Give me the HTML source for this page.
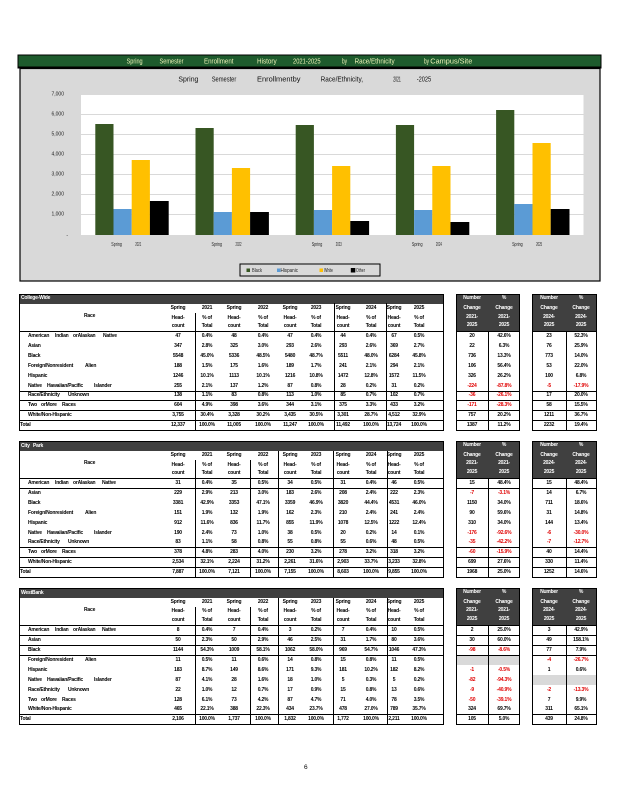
<!DOCTYPE html>
<html><head><meta charset="utf-8"><style>
*{margin:0;padding:0}
body{width:618px;height:800px;position:relative;background:#fff;overflow:hidden;font-family:"Liberation Sans Narrow","Liberation Sans",Arial,sans-serif;color:#000}
.a{position:absolute}
.box{position:absolute;box-sizing:border-box;border:1.5px solid #000}
.band{position:absolute;background:#404040}
.gr{position:absolute;background:#d9d9d9}
.h{position:absolute;height:1px;background:#000}
.v{position:absolute;width:1px;background:#000}
.r{position:absolute;left:0;width:618px;height:7px;font-size:5px;font-weight:bold;line-height:7px;letter-spacing:-0.2px;white-space:nowrap}
.r span{position:absolute;top:0;width:26px;text-align:center}
.r span.l{width:auto;text-align:left}
.w span{color:#fff}
.r .n{color:#e00000}
.c1{left:165px}.c2{left:194px}.c3{left:221px}.c4{left:250px}.c5{left:277px}.c6{left:303px}.c7{left:330px}.c8{left:358px}.c9{left:381px}.c10{left:406px}
.b1{left:459px}.b2{left:491px}.b3{left:536px}.b4{left:568px}
.k1{left:28px}
</style></head><body>

<svg class="a" style="left:0;top:0" width="618" height="290" font-family="Liberation Sans Narrow, Liberation Sans, sans-serif">
<rect x="18" y="55" width="583" height="13" fill="#1e5b2d" stroke="#000" stroke-width="1"/>
<line x1="18" y1="67.5" x2="601" y2="67.5" stroke="#000" stroke-width="2"/>
<rect x="20" y="68.5" width="580" height="212.5" fill="#d9d9d9" stroke="#000" stroke-width="1.2"/>
<g fill="#eef3b8" font-size="7">
<text x="126.6" y="63.5" textLength="16" lengthAdjust="spacingAndGlyphs">Spring</text>
<text x="159.5" y="63.5" textLength="24" lengthAdjust="spacingAndGlyphs">Semester</text>
<text x="204" y="63.5" textLength="29.5" lengthAdjust="spacingAndGlyphs">Enrollment</text>
<text x="257" y="63.5" textLength="19.7" lengthAdjust="spacingAndGlyphs">History</text>
<text x="293" y="63.5" textLength="27.6" lengthAdjust="spacingAndGlyphs">2021-2025</text>
<text x="342" y="63.5" textLength="5" lengthAdjust="spacingAndGlyphs">by</text>
<text x="354.6" y="63.5" textLength="40" lengthAdjust="spacingAndGlyphs">Race/Ethnicity</text>
<text x="424" y="63.5" textLength="5" lengthAdjust="spacingAndGlyphs">by</text>
<text x="430.3" y="63.5" textLength="42" lengthAdjust="spacingAndGlyphs">Campus/Site</text>
</g>
<g fill="#111" font-size="7">
<text x="178.4" y="81.5" textLength="20" lengthAdjust="spacingAndGlyphs">Spring</text>
<text x="211.7" y="81.5" textLength="24.6" lengthAdjust="spacingAndGlyphs">Semester</text>
<text x="257" y="81.5" textLength="43.5" lengthAdjust="spacingAndGlyphs">Enrollmentby</text>
<text x="320.6" y="81.5" textLength="42.4" lengthAdjust="spacingAndGlyphs">Race/Ethnicity,</text>
<text x="393.2" y="81.5" textLength="7.6" lengthAdjust="spacingAndGlyphs">2021</text>
<text x="416.7" y="81.5" textLength="14.4" lengthAdjust="spacingAndGlyphs">-2025</text>
</g>
<rect x="81" y="94" width="502.5" height="141" fill="#fff"/>
<g stroke="#d9d9d9" stroke-width="1">
<line x1="81" y1="94.5" x2="583.5" y2="94.5"/>
<line x1="81" y1="114.5" x2="583.5" y2="114.5"/>
<line x1="81" y1="134.5" x2="583.5" y2="134.5"/>
<line x1="81" y1="154.5" x2="583.5" y2="154.5"/>
<line x1="81" y1="174.5" x2="583.5" y2="174.5"/>
<line x1="81" y1="194.5" x2="583.5" y2="194.5"/>
<line x1="81" y1="214.5" x2="583.5" y2="214.5"/>
</g>
<g fill="#375623">
<rect x="95.3" y="124" width="18.2" height="111"/>
<rect x="195.5" y="128" width="18.2" height="107"/>
<rect x="295.7" y="125" width="18.2" height="110"/>
<rect x="395.9" y="125" width="18.2" height="110"/>
<rect x="496.1" y="110" width="18.2" height="125"/>
</g>
<g fill="#5b9bd5">
<rect x="113.5" y="209" width="18.2" height="26"/>
<rect x="213.7" y="212" width="18.2" height="23"/>
<rect x="313.9" y="210" width="18.2" height="25"/>
<rect x="414.1" y="210" width="18.2" height="25"/>
<rect x="514.3" y="204" width="18.2" height="31"/>
</g>
<g fill="#ffc000">
<rect x="131.7" y="160" width="18.2" height="75"/>
<rect x="231.9" y="168" width="18.2" height="67"/>
<rect x="332.1" y="166" width="18.2" height="69"/>
<rect x="432.3" y="166" width="18.2" height="69"/>
<rect x="532.5" y="143" width="18.2" height="92"/>
</g>
<g fill="#000">
<rect x="149.9" y="201" width="18.8" height="34"/>
<rect x="250.1" y="212" width="18.8" height="23"/>
<rect x="350.3" y="221" width="18.8" height="14"/>
<rect x="450.5" y="222" width="18.8" height="13"/>
<rect x="550.7" y="209" width="18.8" height="26"/>
</g>
<g fill="#222" font-size="5" text-anchor="end">
<text x="64" y="95.5">7,000</text>
<text x="64" y="115.5">6,000</text>
<text x="64" y="135.5">5,000</text>
<text x="64" y="155.5">4,000</text>
<text x="64" y="175.5">3,000</text>
<text x="64" y="195.5">2,000</text>
<text x="64" y="215.5">1,000</text>
<text x="68" y="237">-</text>
</g>
<g fill="#222" font-size="5">
<text x="111.3" y="246" textLength="10.6" lengthAdjust="spacingAndGlyphs">Spring</text><text x="135.3" y="246" textLength="6" lengthAdjust="spacingAndGlyphs">2021</text>
<text x="211.5" y="246" textLength="10.6" lengthAdjust="spacingAndGlyphs">Spring</text><text x="235.5" y="246" textLength="6" lengthAdjust="spacingAndGlyphs">2022</text>
<text x="311.7" y="246" textLength="10.6" lengthAdjust="spacingAndGlyphs">Spring</text><text x="335.7" y="246" textLength="6" lengthAdjust="spacingAndGlyphs">2023</text>
<text x="411.9" y="246" textLength="10.6" lengthAdjust="spacingAndGlyphs">Spring</text><text x="435.9" y="246" textLength="6" lengthAdjust="spacingAndGlyphs">2024</text>
<text x="512.1" y="246" textLength="10.6" lengthAdjust="spacingAndGlyphs">Spring</text><text x="536.1" y="246" textLength="6" lengthAdjust="spacingAndGlyphs">2025</text>
</g>
<rect x="240" y="264" width="140" height="12" fill="none" stroke="#000" stroke-width="1"/>
<rect x="246.5" y="268.5" width="3.5" height="3.5" fill="#375623"/>
<rect x="277" y="268.5" width="3.5" height="3.5" fill="#5b9bd5"/>
<rect x="319.5" y="268.5" width="3.5" height="3.5" fill="#ffc000"/>
<rect x="350.8" y="268" width="4.5" height="4.5" fill="#000"/>
<g fill="#222" font-size="5.5">
<text x="252" y="272" textLength="10" lengthAdjust="spacingAndGlyphs">Black</text>
<text x="280.5" y="272" textLength="17.5" lengthAdjust="spacingAndGlyphs">Hispanic</text>
<text x="324" y="272" textLength="9" lengthAdjust="spacingAndGlyphs">White</text>
<text x="356" y="272" textLength="9" lengthAdjust="spacingAndGlyphs">Other</text>
</g>
</svg>

<!-- ================= TABLE 1 ================= -->
<div class="band" style="left:19px;top:294px;width:425px;height:10px"></div>
<div class="box" style="left:19px;top:294px;width:425px;height:137px"></div>
<div class="h" style="left:19px;top:331px;width:425px"></div>
<div class="h" style="left:19px;top:391px;width:425px"></div>
<div class="h" style="left:19px;top:400px;width:425px"></div>
<div class="h" style="left:19px;top:410px;width:425px"></div>
<div class="h" style="left:19px;top:420px;width:425px"></div>
<div class="v" style="left:195px;top:313px;height:118px"></div>
<div class="v" style="left:334px;top:303px;height:128px"></div>
<div class="v" style="left:386px;top:303px;height:128px"></div>

<div class="band" style="left:456px;top:294px;width:64px;height:37px"></div>
<div class="box" style="left:456px;top:294px;width:64px;height:137px"></div>
<div class="v" style="left:488px;top:331px;height:100px"></div>
<div class="band" style="left:532px;top:294px;width:65px;height:37px"></div>
<div class="box" style="left:532px;top:294px;width:65px;height:137px"></div>
<div class="v" style="left:566px;top:331px;height:100px"></div>
<div class="h" style="left:456px;top:331px;width:64px"></div><div class="h" style="left:532px;top:331px;width:65px"></div>
<div class="h" style="left:456px;top:391px;width:64px"></div><div class="h" style="left:532px;top:391px;width:65px"></div>
<div class="h" style="left:456px;top:400px;width:64px"></div><div class="h" style="left:532px;top:400px;width:65px"></div>
<div class="h" style="left:456px;top:410px;width:64px"></div><div class="h" style="left:532px;top:410px;width:65px"></div>
<div class="h" style="left:456px;top:420px;width:64px"></div><div class="h" style="left:532px;top:420px;width:65px"></div>

<div class="r w" style="top:295px"><span class="l" style="left:21px">College-Wide</span></div>
<div class="r w" style="top:294.5px"><span class="b1">Number</span><span class="b2">%</span><span class="b3">Number</span><span class="b4">%</span></div>
<div class="r w" style="top:304.5px"><span class="b1">Change</span><span class="b2">Change</span><span class="b3">Change</span><span class="b4">Change</span></div>
<div class="r w" style="top:313.5px"><span class="b1">2021-</span><span class="b2">2021-</span><span class="b3">2024-</span><span class="b4">2024-</span></div>
<div class="r w" style="top:321.5px"><span class="b1">2025</span><span class="b2">2025</span><span class="b3">2025</span><span class="b4">2025</span></div>

<div class="r" style="top:304.5px"><span class="c1">Spring</span><span class="c2">2021</span><span class="c3">Spring</span><span class="c4">2022</span><span class="c5">Spring</span><span class="c6">2023</span><span class="c7">Spring</span><span class="c8">2024</span><span class="c9">Spring</span><span class="c10">2025</span></div>
<div class="r" style="top:312.5px"><span class="l" style="left:84px">Race</span></div>
<div class="r" style="top:314.5px"><span class="c1">Head-</span><span class="c2">% of</span><span class="c3">Head-</span><span class="c4">% of</span><span class="c5">Head-</span><span class="c6">% of</span><span class="c7">Head-</span><span class="c8">% of</span><span class="c9">Head-</span><span class="c10">% of</span></div>
<div class="r" style="top:322.5px"><span class="c1">count</span><span class="c2">Total</span><span class="c3">count</span><span class="c4">Total</span><span class="c5">count</span><span class="c6">Total</span><span class="c7">count</span><span class="c8">Total</span><span class="c9">count</span><span class="c10">Total</span></div>

<div class="r" style="top:332.5px"><span class="l k1">American</span><span class="l" style="left:55px">Indian</span><span class="l" style="left:73px">orAlaskan</span><span class="l" style="left:103px">Native</span><span class="c1">47</span><span class="c2">0.4%</span><span class="c3">48</span><span class="c4">0.4%</span><span class="c5">47</span><span class="c6">0.4%</span><span class="c7">44</span><span class="c8">0.4%</span><span class="c9">67</span><span class="c10">0.5%</span><span class="b1">20</span><span class="b2">42.6%</span><span class="b3">23</span><span class="b4">52.3%</span></div>
<div class="r" style="top:342.5px"><span class="l k1">Asian</span><span class="c1">347</span><span class="c2">2.8%</span><span class="c3">325</span><span class="c4">3.0%</span><span class="c5">293</span><span class="c6">2.6%</span><span class="c7">293</span><span class="c8">2.6%</span><span class="c9">369</span><span class="c10">2.7%</span><span class="b1">22</span><span class="b2">6.3%</span><span class="b3">76</span><span class="b4">25.9%</span></div>
<div class="r" style="top:352.5px"><span class="l k1">Black</span><span class="c1">5548</span><span class="c2">45.0%</span><span class="c3">5336</span><span class="c4">48.5%</span><span class="c5">5480</span><span class="c6">48.7%</span><span class="c7">5511</span><span class="c8">48.0%</span><span class="c9">6284</span><span class="c10">45.8%</span><span class="b1">736</span><span class="b2">13.3%</span><span class="b3">773</span><span class="b4">14.0%</span></div>
<div class="r" style="top:362.5px"><span class="l k1">Foreign/Nonresident</span><span class="l" style="left:85px">Alien</span><span class="c1">188</span><span class="c2">1.5%</span><span class="c3">175</span><span class="c4">1.6%</span><span class="c5">189</span><span class="c6">1.7%</span><span class="c7">241</span><span class="c8">2.1%</span><span class="c9">294</span><span class="c10">2.1%</span><span class="b1">106</span><span class="b2">56.4%</span><span class="b3">53</span><span class="b4">22.0%</span></div>
<div class="r" style="top:372.5px"><span class="l k1">Hispanic</span><span class="c1">1246</span><span class="c2">10.1%</span><span class="c3">1113</span><span class="c4">10.1%</span><span class="c5">1216</span><span class="c6">10.8%</span><span class="c7">1472</span><span class="c8">12.8%</span><span class="c9">1572</span><span class="c10">11.5%</span><span class="b1">326</span><span class="b2">26.2%</span><span class="b3">100</span><span class="b4">6.8%</span></div>
<div class="r" style="top:382.5px"><span class="l k1">Native</span><span class="l" style="left:47px">Hawaiian/Pacific</span><span class="l" style="left:94px">Islander</span><span class="c1">255</span><span class="c2">2.1%</span><span class="c3">137</span><span class="c4">1.2%</span><span class="c5">87</span><span class="c6">0.8%</span><span class="c7">28</span><span class="c8">0.2%</span><span class="c9">31</span><span class="c10">0.2%</span><span class="b1 n">-224</span><span class="b2 n">-87.8%</span><span class="b3 n">-5</span><span class="b4 n">-17.9%</span></div>
<div class="r" style="top:392px"><span class="l k1">Race/Ethnicity</span><span class="l" style="left:68px">Unknown</span><span class="c1">138</span><span class="c2">1.1%</span><span class="c3">83</span><span class="c4">0.8%</span><span class="c5">113</span><span class="c6">1.0%</span><span class="c7">85</span><span class="c8">0.7%</span><span class="c9">102</span><span class="c10">0.7%</span><span class="b1 n">-36</span><span class="b2 n">-26.1%</span><span class="b3">17</span><span class="b4">20.0%</span></div>
<div class="r" style="top:401.5px"><span class="l k1">Two</span><span class="l" style="left:41px">orMore</span><span class="l" style="left:62px">Races</span><span class="c1">604</span><span class="c2">4.9%</span><span class="c3">398</span><span class="c4">3.6%</span><span class="c5">344</span><span class="c6">3.1%</span><span class="c7">375</span><span class="c8">3.3%</span><span class="c9">433</span><span class="c10">3.2%</span><span class="b1 n">-171</span><span class="b2 n">-28.3%</span><span class="b3">58</span><span class="b4">15.5%</span></div>
<div class="r" style="top:411.5px"><span class="l k1">White/Non-Hispanic</span><span class="c1">3,755</span><span class="c2">30.4%</span><span class="c3">3,328</span><span class="c4">30.2%</span><span class="c5">3,435</span><span class="c6">30.5%</span><span class="c7">3,301</span><span class="c8">28.7%</span><span class="c9">4,512</span><span class="c10">32.9%</span><span class="b1">757</span><span class="b2">20.2%</span><span class="b3">1211</span><span class="b4">36.7%</span></div>
<div class="r" style="top:421.5px"><span class="l" style="left:20px">Total</span><span class="c1">12,337</span><span class="c2">100.0%</span><span class="c3">11,005</span><span class="c4">100.0%</span><span class="c5">11,247</span><span class="c6">100.0%</span><span class="c7">11,492</span><span class="c8">100.0%</span><span class="c9">13,724</span><span class="c10">100.0%</span><span class="b1">1387</span><span class="b2">11.2%</span><span class="b3">2232</span><span class="b4">19.4%</span></div>

<!-- ================= TABLE 2 ================= -->
<div class="band" style="left:19px;top:441px;width:425px;height:10px"></div>
<div class="box" style="left:19px;top:441px;width:425px;height:137px"></div>
<div class="h" style="left:19px;top:478px;width:425px"></div>
<div class="h" style="left:19px;top:488px;width:425px"></div>
<div class="h" style="left:19px;top:547px;width:425px"></div>
<div class="h" style="left:19px;top:557px;width:425px"></div>
<div class="h" style="left:19px;top:567px;width:425px"></div>
<div class="v" style="left:195px;top:460px;height:118px"></div>
<div class="v" style="left:250px;top:460px;height:118px"></div>
<div class="v" style="left:278px;top:451px;height:127px"></div>
<div class="v" style="left:333px;top:451px;height:127px"></div>
<div class="v" style="left:387px;top:451px;height:127px"></div>

<div class="band" style="left:456px;top:441px;width:64px;height:37px"></div>
<div class="box" style="left:456px;top:441px;width:64px;height:137px"></div>
<div class="v" style="left:488px;top:478px;height:100px"></div>
<div class="band" style="left:532px;top:441px;width:65px;height:37px"></div>
<div class="box" style="left:532px;top:441px;width:65px;height:137px"></div>
<div class="v" style="left:566px;top:478px;height:100px"></div>
<div class="h" style="left:456px;top:478px;width:64px"></div><div class="h" style="left:532px;top:478px;width:65px"></div>
<div class="h" style="left:456px;top:488px;width:64px"></div><div class="h" style="left:532px;top:488px;width:65px"></div>
<div class="h" style="left:456px;top:547px;width:64px"></div><div class="h" style="left:532px;top:547px;width:65px"></div>
<div class="h" style="left:456px;top:557px;width:64px"></div><div class="h" style="left:532px;top:557px;width:65px"></div>
<div class="h" style="left:456px;top:567px;width:64px"></div><div class="h" style="left:532px;top:567px;width:65px"></div>

<div class="r w" style="top:442.5px"><span class="l" style="left:21px">City</span><span class="l" style="left:33px">Park</span></div>
<div class="r w" style="top:441.5px"><span class="b1">Number</span><span class="b2">%</span><span class="b3">Number</span><span class="b4">%</span></div>
<div class="r w" style="top:451.5px"><span class="b1">Change</span><span class="b2">Change</span><span class="b3">Change</span><span class="b4">Change</span></div>
<div class="r w" style="top:459.5px"><span class="b1">2021-</span><span class="b2">2021-</span><span class="b3">2024-</span><span class="b4">2024-</span></div>
<div class="r w" style="top:468.5px"><span class="b1">2025</span><span class="b2">2025</span><span class="b3">2025</span><span class="b4">2025</span></div>

<div class="r" style="top:451.5px"><span class="c1">Spring</span><span class="c2">2021</span><span class="c3">Spring</span><span class="c4">2022</span><span class="c5">Spring</span><span class="c6">2023</span><span class="c7">Spring</span><span class="c8">2024</span><span class="c9">Spring</span><span class="c10">2025</span></div>
<div class="r" style="top:459.5px"><span class="l" style="left:84px">Race</span></div>
<div class="r" style="top:461.5px"><span class="c1">Head-</span><span class="c2">% of</span><span class="c3">Head-</span><span class="c4">% of</span><span class="c5">Head-</span><span class="c6">% of</span><span class="c7">Head-</span><span class="c8">% of</span><span class="c9">Head-</span><span class="c10">% of</span></div>
<div class="r" style="top:469.5px"><span class="c1">count</span><span class="c2">Total</span><span class="c3">count</span><span class="c4">Total</span><span class="c5">count</span><span class="c6">Total</span><span class="c7">count</span><span class="c8">Total</span><span class="c9">count</span><span class="c10">Total</span></div>

<div class="r" style="top:479.5px"><span class="l k1">American</span><span class="l" style="left:55px">Indian</span><span class="l" style="left:73px">orAlaskan</span><span class="l" style="left:102px">Native</span><span class="c1">31</span><span class="c2">0.4%</span><span class="c3">35</span><span class="c4">0.5%</span><span class="c5">34</span><span class="c6">0.5%</span><span class="c7">31</span><span class="c8">0.4%</span><span class="c9">46</span><span class="c10">0.5%</span><span class="b1">15</span><span class="b2">48.4%</span><span class="b3">15</span><span class="b4">48.4%</span></div>
<div class="r" style="top:489.5px"><span class="l k1">Asian</span><span class="c1">229</span><span class="c2">2.9%</span><span class="c3">213</span><span class="c4">3.0%</span><span class="c5">183</span><span class="c6">2.6%</span><span class="c7">208</span><span class="c8">2.4%</span><span class="c9">222</span><span class="c10">2.3%</span><span class="b1 n">-7</span><span class="b2 n">-3.1%</span><span class="b3">14</span><span class="b4">6.7%</span></div>
<div class="r" style="top:499.5px"><span class="l k1">Black</span><span class="c1">3381</span><span class="c2">42.9%</span><span class="c3">3353</span><span class="c4">47.1%</span><span class="c5">3359</span><span class="c6">46.9%</span><span class="c7">3820</span><span class="c8">44.4%</span><span class="c9">4531</span><span class="c10">46.0%</span><span class="b1">1150</span><span class="b2">34.0%</span><span class="b3">711</span><span class="b4">18.6%</span></div>
<div class="r" style="top:509.5px"><span class="l k1">Foreign/Nonresident</span><span class="l" style="left:85px">Alien</span><span class="c1">151</span><span class="c2">1.9%</span><span class="c3">132</span><span class="c4">1.9%</span><span class="c5">162</span><span class="c6">2.3%</span><span class="c7">210</span><span class="c8">2.4%</span><span class="c9">241</span><span class="c10">2.4%</span><span class="b1">90</span><span class="b2">59.6%</span><span class="b3">31</span><span class="b4">14.8%</span></div>
<div class="r" style="top:519.5px"><span class="l k1">Hispanic</span><span class="c1">912</span><span class="c2">11.6%</span><span class="c3">836</span><span class="c4">11.7%</span><span class="c5">855</span><span class="c6">11.9%</span><span class="c7">1078</span><span class="c8">12.5%</span><span class="c9">1222</span><span class="c10">12.4%</span><span class="b1">310</span><span class="b2">34.0%</span><span class="b3">144</span><span class="b4">13.4%</span></div>
<div class="r" style="top:529.5px"><span class="l k1">Native</span><span class="l" style="left:47px">Hawaiian/Pacific</span><span class="l" style="left:94px">Islander</span><span class="c1">190</span><span class="c2">2.4%</span><span class="c3">73</span><span class="c4">1.0%</span><span class="c5">38</span><span class="c6">0.5%</span><span class="c7">20</span><span class="c8">0.2%</span><span class="c9">14</span><span class="c10">0.1%</span><span class="b1 n">-176</span><span class="b2 n">-92.6%</span><span class="b3 n">-6</span><span class="b4 n">-30.0%</span></div>
<div class="r" style="top:539px"><span class="l k1">Race/Ethnicity</span><span class="l" style="left:68px">Unknown</span><span class="c1">83</span><span class="c2">1.1%</span><span class="c3">58</span><span class="c4">0.8%</span><span class="c5">55</span><span class="c6">0.8%</span><span class="c7">55</span><span class="c8">0.6%</span><span class="c9">48</span><span class="c10">0.5%</span><span class="b1 n">-35</span><span class="b2 n">-42.2%</span><span class="b3 n">-7</span><span class="b4 n">-12.7%</span></div>
<div class="r" style="top:548.5px"><span class="l k1">Two</span><span class="l" style="left:41px">orMore</span><span class="l" style="left:62px">Races</span><span class="c1">378</span><span class="c2">4.8%</span><span class="c3">283</span><span class="c4">4.0%</span><span class="c5">230</span><span class="c6">3.2%</span><span class="c7">278</span><span class="c8">3.2%</span><span class="c9">318</span><span class="c10">3.2%</span><span class="b1 n">-60</span><span class="b2 n">-15.9%</span><span class="b3">40</span><span class="b4">14.4%</span></div>
<div class="r" style="top:558.5px"><span class="l k1">White/Non-Hispanic</span><span class="c1">2,534</span><span class="c2">32.1%</span><span class="c3">2,224</span><span class="c4">31.2%</span><span class="c5">2,261</span><span class="c6">31.6%</span><span class="c7">2,903</span><span class="c8">33.7%</span><span class="c9">3,233</span><span class="c10">32.8%</span><span class="b1">699</span><span class="b2">27.6%</span><span class="b3">330</span><span class="b4">11.4%</span></div>
<div class="r" style="top:568.5px"><span class="l" style="left:20px">Total</span><span class="c1">7,887</span><span class="c2">100.0%</span><span class="c3">7,121</span><span class="c4">100.0%</span><span class="c5">7,155</span><span class="c6">100.0%</span><span class="c7">8,603</span><span class="c8">100.0%</span><span class="c9">9,855</span><span class="c10">100.0%</span><span class="b1">1968</span><span class="b2">25.0%</span><span class="b3">1252</span><span class="b4">14.6%</span></div>

<!-- ================= TABLE 3 ================= -->
<div class="band" style="left:19px;top:588px;width:425px;height:10px"></div>
<div class="box" style="left:19px;top:588px;width:425px;height:137px"></div>
<div class="h" style="left:19px;top:625px;width:425px"></div>
<div class="h" style="left:19px;top:635px;width:425px"></div>
<div class="h" style="left:19px;top:645px;width:425px"></div>
<div class="h" style="left:19px;top:655px;width:425px"></div>
<div class="h" style="left:19px;top:714px;width:425px"></div>
<div class="v" style="left:195px;top:607px;height:118px"></div>
<div class="v" style="left:250px;top:607px;height:118px"></div>
<div class="v" style="left:278px;top:598px;height:127px"></div>
<div class="v" style="left:333px;top:598px;height:127px"></div>
<div class="v" style="left:387px;top:598px;height:127px"></div>

<div class="gr" style="left:456px;top:655px;width:64px;height:10px"></div>
<div class="gr" style="left:532px;top:675px;width:65px;height:10px"></div>
<div class="band" style="left:456px;top:588px;width:64px;height:37px"></div>
<div class="box" style="left:456px;top:588px;width:64px;height:137px"></div>
<div class="v" style="left:488px;top:625px;height:100px"></div>
<div class="band" style="left:532px;top:588px;width:65px;height:37px"></div>
<div class="box" style="left:532px;top:588px;width:65px;height:137px"></div>
<div class="v" style="left:566px;top:625px;height:100px"></div>
<div class="h" style="left:456px;top:625px;width:64px"></div><div class="h" style="left:532px;top:625px;width:65px"></div>
<div class="h" style="left:456px;top:635px;width:64px"></div><div class="h" style="left:532px;top:635px;width:65px"></div>
<div class="h" style="left:456px;top:645px;width:64px"></div><div class="h" style="left:532px;top:645px;width:65px"></div>
<div class="h" style="left:456px;top:655px;width:64px"></div><div class="h" style="left:532px;top:655px;width:65px"></div>
<div class="h" style="left:456px;top:714px;width:64px"></div><div class="h" style="left:532px;top:714px;width:65px"></div>

<div class="r w" style="top:589.5px"><span class="l" style="left:21px">WestBank</span></div>
<div class="r w" style="top:588.5px"><span class="b1">Number</span><span class="b2">%</span><span class="b3">Number</span><span class="b4">%</span></div>
<div class="r w" style="top:598.5px"><span class="b1">Change</span><span class="b2">Change</span><span class="b3">Change</span><span class="b4">Change</span></div>
<div class="r w" style="top:606.5px"><span class="b1">2021-</span><span class="b2">2021-</span><span class="b3">2024-</span><span class="b4">2024-</span></div>
<div class="r w" style="top:615.5px"><span class="b1">2025</span><span class="b2">2025</span><span class="b3">2025</span><span class="b4">2025</span></div>

<div class="r" style="top:598.5px"><span class="c1">Spring</span><span class="c2">2021</span><span class="c3">Spring</span><span class="c4">2022</span><span class="c5">Spring</span><span class="c6">2023</span><span class="c7">Spring</span><span class="c8">2024</span><span class="c9">Spring</span><span class="c10">2025</span></div>
<div class="r" style="top:606.5px"><span class="l" style="left:84px">Race</span></div>
<div class="r" style="top:607.5px"><span class="c1">Head-</span><span class="c2">% of</span><span class="c3">Head-</span><span class="c4">% of</span><span class="c5">Head-</span><span class="c6">% of</span><span class="c7">Head-</span><span class="c8">% of</span><span class="c9">Head-</span><span class="c10">% of</span></div>
<div class="r" style="top:616.5px"><span class="c1">count</span><span class="c2">Total</span><span class="c3">count</span><span class="c4">Total</span><span class="c5">count</span><span class="c6">Total</span><span class="c7">count</span><span class="c8">Total</span><span class="c9">count</span><span class="c10">Total</span></div>

<div class="r" style="top:626.5px"><span class="l k1">American</span><span class="l" style="left:55px">Indian</span><span class="l" style="left:73px">orAlaskan</span><span class="l" style="left:102px">Native</span><span class="c1">8</span><span class="c2">0.4%</span><span class="c3">7</span><span class="c4">0.4%</span><span class="c5">3</span><span class="c6">0.2%</span><span class="c7">7</span><span class="c8">0.4%</span><span class="c9">10</span><span class="c10">0.5%</span><span class="b1">2</span><span class="b2">25.0%</span><span class="b3">3</span><span class="b4">42.9%</span></div>
<div class="r" style="top:636.5px"><span class="l k1">Asian</span><span class="c1">50</span><span class="c2">2.3%</span><span class="c3">50</span><span class="c4">2.9%</span><span class="c5">46</span><span class="c6">2.5%</span><span class="c7">31</span><span class="c8">1.7%</span><span class="c9">80</span><span class="c10">3.6%</span><span class="b1">30</span><span class="b2">60.0%</span><span class="b3">49</span><span class="b4">158.1%</span></div>
<div class="r" style="top:646.5px"><span class="l k1">Black</span><span class="c1">1144</span><span class="c2">54.3%</span><span class="c3">1009</span><span class="c4">58.1%</span><span class="c5">1062</span><span class="c6">58.0%</span><span class="c7">969</span><span class="c8">54.7%</span><span class="c9">1046</span><span class="c10">47.3%</span><span class="b1 n">-98</span><span class="b2 n">-8.6%</span><span class="b3">77</span><span class="b4">7.9%</span></div>
<div class="r" style="top:656.5px"><span class="l k1">Foreign/Nonresident</span><span class="l" style="left:85px">Alien</span><span class="c1">11</span><span class="c2">0.5%</span><span class="c3">11</span><span class="c4">0.6%</span><span class="c5">14</span><span class="c6">0.8%</span><span class="c7">15</span><span class="c8">0.8%</span><span class="c9">11</span><span class="c10">0.5%</span><span class="b3 n">-4</span><span class="b4 n">-26.7%</span></div>
<div class="r" style="top:666.5px"><span class="l k1">Hispanic</span><span class="c1">183</span><span class="c2">8.7%</span><span class="c3">149</span><span class="c4">8.6%</span><span class="c5">171</span><span class="c6">9.3%</span><span class="c7">181</span><span class="c8">10.2%</span><span class="c9">182</span><span class="c10">8.2%</span><span class="b1 n">-1</span><span class="b2 n">-0.5%</span><span class="b3">1</span><span class="b4">0.6%</span></div>
<div class="r" style="top:676.5px"><span class="l k1">Native</span><span class="l" style="left:47px">Hawaiian/Pacific</span><span class="l" style="left:94px">Islander</span><span class="c1">87</span><span class="c2">4.1%</span><span class="c3">28</span><span class="c4">1.6%</span><span class="c5">18</span><span class="c6">1.0%</span><span class="c7">5</span><span class="c8">0.3%</span><span class="c9">5</span><span class="c10">0.2%</span><span class="b1 n">-82</span><span class="b2 n">-94.3%</span></div>
<div class="r" style="top:686.5px"><span class="l k1">Race/Ethnicity</span><span class="l" style="left:68px">Unknown</span><span class="c1">22</span><span class="c2">1.0%</span><span class="c3">12</span><span class="c4">0.7%</span><span class="c5">17</span><span class="c6">0.9%</span><span class="c7">15</span><span class="c8">0.8%</span><span class="c9">13</span><span class="c10">0.6%</span><span class="b1 n">-9</span><span class="b2 n">-40.9%</span><span class="b3 n">-2</span><span class="b4 n">-13.3%</span></div>
<div class="r" style="top:696.5px"><span class="l k1">Two</span><span class="l" style="left:41px">orMore</span><span class="l" style="left:62px">Races</span><span class="c1">128</span><span class="c2">6.1%</span><span class="c3">73</span><span class="c4">4.2%</span><span class="c5">87</span><span class="c6">4.7%</span><span class="c7">71</span><span class="c8">4.0%</span><span class="c9">78</span><span class="c10">3.5%</span><span class="b1 n">-50</span><span class="b2 n">-39.1%</span><span class="b3">7</span><span class="b4">9.9%</span></div>
<div class="r" style="top:706px"><span class="l k1">White/Non-Hispanic</span><span class="c1">465</span><span class="c2">22.1%</span><span class="c3">388</span><span class="c4">22.3%</span><span class="c5">434</span><span class="c6">23.7%</span><span class="c7">478</span><span class="c8">27.0%</span><span class="c9">789</span><span class="c10">35.7%</span><span class="b1">324</span><span class="b2">69.7%</span><span class="b3">311</span><span class="b4">65.1%</span></div>
<div class="r" style="top:715.5px"><span class="l" style="left:20px">Total</span><span class="c1">2,106</span><span class="c2">100.0%</span><span class="c3">1,737</span><span class="c4">100.0%</span><span class="c5">1,832</span><span class="c6">100.0%</span><span class="c7">1,772</span><span class="c8">100.0%</span><span class="c9">2,211</span><span class="c10">100.0%</span><span class="b1">105</span><span class="b2">5.0%</span><span class="b3">439</span><span class="b4">24.8%</span></div>

<div class="a" style="left:304px;top:764px;font-size:6.5px;line-height:8px">6</div>
</body></html>
